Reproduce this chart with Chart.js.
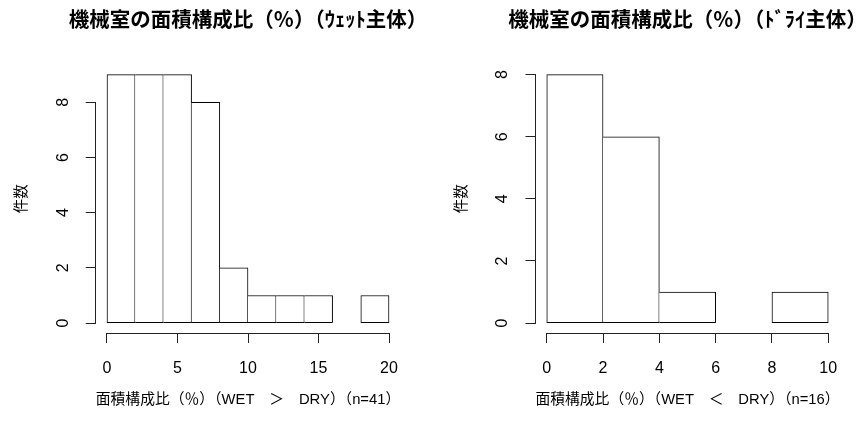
<!DOCTYPE html>
<html>
<head>
<meta charset="utf-8">
<script src="https://cdn.jsdelivr.net/npm/chart.js@4/dist/chart.umd.min.js"></script>
<style>
  html, body { margin: 0; background: #fff; overflow: hidden; }
  #wrap { position: relative; width: 859px; height: 423px; overflow: hidden; }
  canvas { position: absolute; top: 0; }
</style>
</head>
<body>
<div id="wrap">
  <canvas id="wetChart" width="496" height="423" style="left:0"></canvas>
  <canvas id="dryChart" width="515" height="423" style="left:430px"></canvas>
</div>
<script>
// ヒストグラムの階級（区切り）と件数
const wetEdges = [0, 2, 4, 6, 8, 10, 12, 14, 16, 18, 20];
const wetCounts = [9, 9, 9, 8, 2, 1, 1, 1, 0, 1];
const dryEdges = [0, 2, 4, 6, 8, 10];
const dryCounts = [8, 6, 1, 0, 1];

const wetTitle = '機械室の面積構成比（％）（ｳｪｯﾄ主体）';
const dryTitle = '機械室の面積構成比（％）（ﾄﾞﾗｲ主体）';
const wetXLabel = '面積構成比（％）（WET　＞　DRY）（n=41）';
const dryXLabel = '面積構成比（％）（WET　＜　DRY）（n=16）';
const yLabel = '件数';

const latinFont = "'Liberation Sans', 'Noto Sans CJK JP', sans-serif";
const cjkFont = "'Noto Sans CJK JP', sans-serif";
const ink = '#222';

// R風の軸線（最初の目盛りから最後の目盛りまで）
const rAxisLines = {
    id: 'rAxisLines',
    afterDatasetsDraw(chart) {
        const ctx = chart.ctx;
        const x = chart.scales.x, y = chart.scales.y;
        const xt = x.ticks, yt = y.ticks;
        ctx.save();
        ctx.strokeStyle = ink;
        ctx.lineWidth = 1;
        ctx.beginPath();
        const xy = Math.round(chart.chartArea.bottom) + 0.5;
        ctx.moveTo(x.getPixelForValue(xt[0].value), xy);
        ctx.lineTo(x.getPixelForValue(xt[xt.length - 1].value), xy);
        ctx.stroke();
        ctx.beginPath();
        const yx = Math.round(chart.chartArea.left) - 0.5;
        ctx.moveTo(yx, y.getPixelForValue(yt[0].value));
        ctx.lineTo(yx, y.getPixelForValue(yt[yt.length - 1].value));
        ctx.stroke();
        ctx.restore();
    }
};

function histBars(edges, counts) {
    return counts.map((c, i) => ({ x: (edges[i] + edges[i + 1]) / 2, y: [0, c] }));
}

// 境界線は高い方の棒だけが描く（二重線を避ける）
function borders(counts) {
    return function(ctx) {
        const i = ctx.dataIndex;
        const h = counts[i];
        const prev = i > 0 ? counts[i - 1] : -1;
        const next = i < counts.length - 1 ? counts[i + 1] : -1;
        return { top: 1, bottom: 1, left: h > prev ? 1 : 0, right: h >= next ? 1 : 0 };
    };
}

function makeChart(id, edges, counts, title, xLabel, opt) {
    const xMin = edges[0], xMax = edges[edges.length - 1];
    const xPad = (xMax - xMin) * 0.04;
    const yMax = Math.max(...counts);
    const yPad = yMax * 0.04;
    return new Chart(document.getElementById(id), {
        type: 'bar',
        data: {
            datasets: [{
                data: histBars(edges, counts),
                backgroundColor: '#fff',
                borderColor: '#000',
                borderWidth: borders(counts),
                borderSkipped: false,
                barPercentage: 1,
                categoryPercentage: 1
            }]
        },
        options: {
            responsive: false,
            animation: false,
            layout: { padding: 0 },
            plugins: {
                legend: { display: false },
                tooltip: { enabled: false },
                title: {
                    display: true,
                    text: title,
                    color: '#000',
                    font: { family: cjkFont, size: 20.5, weight: 'bold' },
                    padding: { top: 6.5, bottom: 33.6 }
                }
            },
            scales: {
                x: {
                    type: 'linear',
                    offset: false,
                    min: xMin - xPad,
                    max: xMax + xPad,
                    afterFit: s => { s.height = 90; },
                    border: { display: false },
                    grid: { display: true, offset: false, drawOnChartArea: false, drawTicks: true, tickLength: 10, color: ink },
                    ticks: {
                        stepSize: opt.xStep,
                        includeBounds: false,
                        color: '#000',
                        padding: 16,
                        font: { family: latinFont, size: 16 }
                    },
                    title: {
                        display: true,
                        text: xLabel,
                        color: '#000',
                        font: { family: latinFont, size: 15 },
                        padding: { top: 0, bottom: 14 }
                    }
                },
                y: {
                    min: -yPad,
                    max: yMax + yPad,
                    afterFit: s => { s.width = opt.yWidth; },
                    border: { display: false },
                    grid: { display: true, drawOnChartArea: false, drawTicks: true, tickLength: 10, color: ink },
                    ticks: {
                        stepSize: 2,
                        includeBounds: false,
                        color: '#000',
                        minRotation: 90,
                        maxRotation: 90,
                        crossAlign: 'center',
                        padding: 18,
                        font: { family: latinFont, size: 16 }
                    },
                    title: {
                        display: true,
                        text: yLabel,
                        color: '#000',
                        font: { family: cjkFont, size: 14.5 },
                        padding: { top: opt.yTitlePad, bottom: 0 }
                    }
                },
                // 右側の空き（タイトルを描画領域の中央に置くための余白）
                yRight: {
                    position: 'right',
                    afterFit: s => { s.width = opt.yWidth; },
                    border: { display: false },
                    grid: { display: false },
                    ticks: { display: false }
                }
            }
        },
        plugins: [rAxisLines]
    });
}

makeChart('wetChart', wetEdges, wetCounts, wetTitle, wetXLabel,
    { yWidth: 95.7, xStep: 5, yTitlePad: 11.3 });
makeChart('dryChart', dryEdges, dryCounts, dryTitle, dryXLabel,
    { yWidth: 105.5, xStep: 2, yTitlePad: 21.3 });
</script>
</body>
</html>
